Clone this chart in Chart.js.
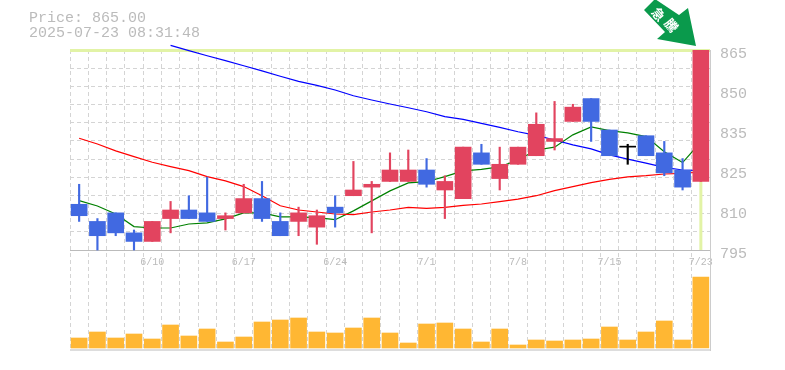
<!DOCTYPE html>
<html>
<head>
<meta charset="utf-8">
<title>Price chart</title>
<script src="https://cdn.jsdelivr.net/npm/chart.js"></script>
<style>
html, body { margin: 0; padding: 0; background: #fff; overflow: hidden; }
#wrap { position: relative; width: 785px; height: 370px; }
#myChart { position: absolute; left: 0; top: 0; }
#info { position: absolute; left: 29px; top: 11px; font: 15px/15px "Liberation Mono", monospace; color: #bbb; white-space: pre; }
#arrow { position: absolute; left: 0; top: 0; }
</style>
</head>
<body>
<div id="wrap">
<canvas id="myChart" width="785" height="370"></canvas>
<div id="info">Price: 865.00
2025-07-23 08:31:48</div>
<svg id="arrow" width="785" height="60">
<polygon points="644,10 655,-1 679,15 688,8 696,46 657,39 665,32" fill="#0a9a4c"/>
<text x="659" y="14" transform="rotate(50 659 14)" text-anchor="middle" dominant-baseline="central" fill="#fff" font-family="Noto Sans CJK JP" font-weight="700" font-size="13">急</text>
<text x="672" y="25" transform="rotate(50 672 25)" text-anchor="middle" dominant-baseline="central" fill="#fff" font-family="Noto Sans CJK JP" font-weight="700" font-size="13">騰</text>
</svg>
</div>
<script>
const dates = ['6/4','6/5','6/6','6/9','6/10','6/11','6/12','6/13','6/16','6/17','6/18','6/19','6/20','6/23','6/24','6/25','6/26','6/27','6/30','7/1','7/2','7/3','7/4','7/7','7/8','7/9','7/10','7/11','7/14','7/15','7/16','7/17','7/18','7/22','7/23'];
const opens = [811,805,808,801,798,806,809,808,806,808,813,805,805,803,810,814,817,819,819,823,816,813,829,820,825,828,833,840,848,837,831,835,829,823,819];
const closes = [807,800,801,798,805,809,806,805,807,813,806,800,808,807,808,816,818,823,823,818,819,831,825,825,831,839,834,845,840,828,831,828,822,817,865];
const highs = [818,806,808,802,805,812,814,820.5,808,818,819,808,810,809,814,826,819,829,830,827,821,831,832,831,831,843,847,846,848,837,832,835,833,827,865];
const lows = [805,795,800,795,798,801,806,805,802,808,805,800,800,797,803,814,801,819,819,817,806,813,825,816,825,828,830,840,833,828,825,828,821,816,819];
const volumes = [10,16,10,14,9,23,12,19,6,11,26,28,30,16,15,20,30,15,5,24,25,19,6,19,3,8,7,8,9,21,8,16,27,8,71];
const maShort = [812.3,810.4,807.6,803.2,802.7,802.7,804.1,804.5,805.9,808,808,806.6,806.6,806.3,805.6,808.7,812.2,815.7,818.5,818.9,820.7,822.7,823.2,824.1,826.5,830,831,835.3,838.1,836.8,836,834.7,829.4,825.6,832.8];
const maMid = [834.1,832.1,829.7,827.7,825.7,824.2,822.8,820.7,819.2,817.2,814,810.5,809,808.3,807.6,807.4,808.3,809,809.9,809.6,809.9,810.6,811.1,811.9,812.8,814,815.8,817.2,818.6,819.7,820.6,821,821.6,821.8,822.3];
const maLong = [null,null,null,null,null,866.6,864.8,863,861.3,859.5,857.7,855.8,854,852.6,851,849,847.5,846.1,844.8,843.4,841.7,840.7,839.3,837.9,836.4,835.1,833.5,831.8,830.4,828.3,826.8,825.4,823.9,823,822.8];
const priceTicks = [865,851,837,823,809,795];
const priceLabels = ['865','850','835','825','810','795'];

const lastPrice = 865;
const upColor = '#e2445f';
const downColor = '#4169e1';
const flatColor = '#000000';
const gridColor = '#d4d4d4';
const textColor = '#bbbbbb';

function candleColor(i) {
	if (closes[i] > opens[i]) return upColor;
	if (closes[i] < opens[i]) return downColor;
	return flatColor;
}
const colors = dates.map((d, i) => candleColor(i));

// current price marker and the closing line of the volume panel
const frame = {
	id: 'frame',
	beforeDatasetsDraw(chart) {
		const a = chart.chartArea;
		const ctx = chart.ctx;
		const py = chart.scales.y.getPixelForValue(lastPrice);
		const px = chart.scales.x.getPixelForValue(dates.length - 1);
		const floorY = chart.scales.y.getPixelForValue(priceTicks[priceTicks.length - 1]);
		ctx.save();
		ctx.fillStyle = '#e2f3a6';
		ctx.fillRect(a.left, py - 1, a.right - a.left, 3);
		ctx.fillRect(px - 1.5, py, 3, floorY - py);
		ctx.fillStyle = textColor;
		ctx.fillRect(a.left, a.bottom - 0.5, a.right - a.left, 1);
		ctx.restore();
	}
};

function lineSet(values, color) {
	return {
		type: 'line',
		data: values,
		borderColor: color,
		borderWidth: 1.2,
		pointRadius: 0,
		tension: 0,
		clip: false,
		yAxisID: 'y',
		order: 2
	};
}

new Chart(document.getElementById('myChart'), {
	type: 'bar',
	data: {
		labels: dates,
		datasets: [
			{ data: volumes, backgroundColor: '#ffb733', barThickness: 16, grouped: false, yAxisID: 'yVol', order: 3 },
			lineSet(maLong, '#0000ff'),
			lineSet(maMid, '#ff0000'),
			lineSet(maShort, '#008000'),
			{ data: dates.map((d, i) => [lows[i], highs[i]]), backgroundColor: colors, barThickness: 1.5, grouped: false, yAxisID: 'y', order: 1 },
			{ data: dates.map((d, i) => [opens[i], closes[i]]), backgroundColor: colors, barThickness: 16, grouped: false, minBarLength: 1, yAxisID: 'y', order: 0 }
		]
	},
	options: {
		responsive: false,
		animation: false,
		events: [],
		layout: { padding: { left: 70, top: 50, bottom: 20, right: 0 } },
		plugins: { legend: { display: false }, title: { display: false }, tooltip: { enabled: false } },
		scales: {
			x: {
				position: { y: 795 },
				offset: true,
				grid: { color: gridColor, lineWidth: 1, drawTicks: false, offset: true },
				border: { color: textColor, dash: [4, 3] },
				ticks: {
					autoSkip: false,
					maxRotation: 0,
					padding: 6,
					color: textColor,
					font: { family: 'Liberation Mono', size: 10 },
					callback: function(value, index) {
						return index % 5 === 4 ? dates[index] : '';
					}
				}
			},
			y: {
				position: 'right',
				min: 760,
				max: 865,
				grid: { display: false },
				border: { color: '#cccccc' },
				afterBuildTicks: function(scale) {
					scale.ticks = priceTicks.map(v => ({ value: v }));
				},
				afterFit: function(scale) { scale.width = 75; },
				ticks: {
					padding: 2,
					labelOffset: 4,
					color: textColor,
					font: { family: 'Liberation Mono', size: 15 },
					callback: function(value) {
						return priceLabels[priceTicks.indexOf(value)];
					}
				}
			},
			yGrid: {
				position: 'left',
				min: 760,
				max: 865,
				border: { display: false, dash: [4, 3] },
				grid: { color: gridColor, lineWidth: 1, drawTicks: false },
				ticks: { display: false },
				afterBuildTicks: function(scale) {
					const ticks = [];
					for (let i = 0; i <= 11; i++) ticks.push({ value: 865 - i * 70 / 11 });
					scale.ticks = ticks;
				},
				afterFit: function(scale) { scale.width = 0; }
			},
			yVol: {
				display: false,
				min: -2,
				max: 298
			}
		}
	},
	plugins: [frame]
});
</script>
</body>
</html>
